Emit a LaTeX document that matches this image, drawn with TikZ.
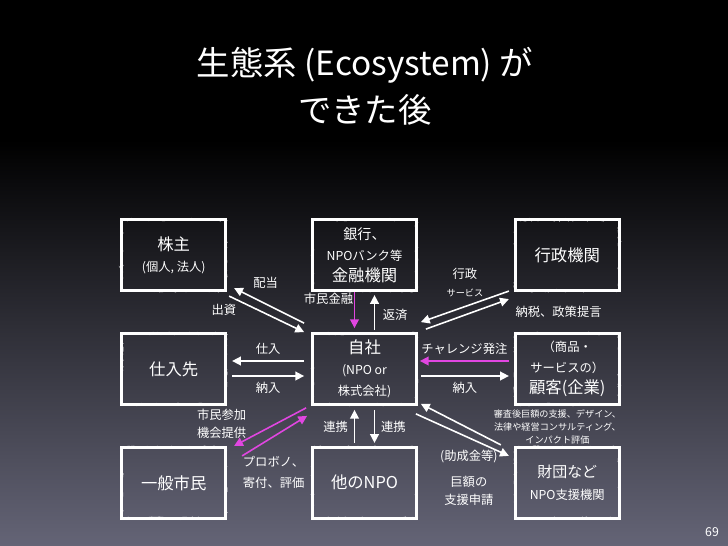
\documentclass[tikz,border=0pt]{standalone}
\usepackage{fontspec}
\setmainfont{Noto Sans CJK JP}
\usepackage{tikz}
\usetikzlibrary{positioning,arrows.meta,decorations.pathmorphing}
\definecolor{bgmid}{RGB}{48,48,74}
\definecolor{bgbot}{RGB}{100,100,118}
\definecolor{chalkpink}{RGB}{225,70,225}
\newcommand\bigbox{\fontsize{9.3}{12}\selectfont}
\newcommand\midbox{\fontsize{7}{10}\selectfont}
\newcommand\tinylbl{\fontsize{5.2}{7.4}\selectfont}
\tikzset{node distance=0.8cm,
  box/.style={draw=white, line width=1.6pt, minimum width=2.08cm, minimum height=1.42cm,
    align=center, text=white, font=\bigbox,
    postaction={decorate, draw=white, line width=0.5pt,
      decoration={random steps, segment length=1.2pt, amplitude=0.7pt}}},
  arr/.style={draw=white, line width=0.9pt, -{Triangle[length=5pt,width=5pt]}},
  marr/.style={arr, draw=chalkpink},
  lbl/.style={text=white, font=\midbox}}

\begin{document}
\begin{tikzpicture}[x=0.02cm, y=-0.02cm]
% background
\fill[black] (0,0) rectangle (728,141);
\shade[top color=black, middle color=bgmid, bottom color=bgbot] (0,140) rectangle (728,546);
\useasboundingbox (0,0) rectangle (728,546);

\node (title) [text=white, align=center, font=\fontsize{19}{27}\selectfont] at (365,86)
  {生態系 (Ecosystem) が\\できた後};

% boxes
\node (jisha) [box] at (364.5,369) {自社\\{\midbox (NPO or}\\{\midbox 株式会社)}};
\node (kinyu) [box, above=of jisha] {{\fontsize{8}{10}\selectfont 銀行、}\\{\midbox NPOバンク等}\\金融機関};
\node (npo) [box, below=of jisha] {他のNPO};
\node (shiire) [box, left=1.68cm of jisha] {仕入先};
\node (kokyaku) [box, right=1.92cm of jisha] {{\midbox （商品・}\\{\midbox サービスの）}\\顧客(企業)};
\node (kabu) [box, above=of shiire] {株主\\{\midbox (個人, 法人)}};
\node (gyosei) [box, above=of kokyaku] {行政機関};
\node (shimin) [box, below=of shiire] {一般市民};
\node (zaidan) [box, below=of kokyaku] {{\fontsize{8.5}{11}\selectfont 財団など}\\{\midbox NPO支援機関}};

% top row
\draw[arr] ([shift={(-7,-9)}]jisha.north west) -- node[lbl, pos=0.55, above=5pt] {配当} ([shift={(7,-4)}]kabu.south east);
\draw[arr] ([shift={(2,4)}]kabu.south east) -- node[lbl, pos=0, below=1pt, xshift=-3pt] {出資} ([shift={(-7,0)}]jisha.north west);
\draw[marr] ([shift={(-10,0)}]kinyu.south) -- node[lbl, pos=0.2, left=-3pt] {市民金融} ([shift={(-10,-4)}]jisha.north);
\draw[arr] ([shift={(10,-2)}]jisha.north) -- node[lbl, pos=0.43, right=1pt] {返済} ([shift={(10,3)}]kinyu.south);
\draw[arr] ([shift={(-5,-1)}]gyosei.south west) -- node[lbl, align=center, above=2pt] {行政\\{\tinylbl サービス}} ([shift={(3,-10)}]jisha.north east);
\draw[arr] ([shift={(8,-3)}]jisha.north east) -- node[lbl, pos=1, below right] {納税、政策提言} ([shift={(-5,7)}]gyosei.south west);

% middle row
\draw[arr] ([shift={(-7,-8)}]jisha.west) -- node[lbl, above] {仕入} ([shift={(5,-8)}]shiire.east);
\draw[arr] ([shift={(5,7)}]shiire.east) -- node[lbl, below] {納入} ([shift={(-7,7)}]jisha.west);
\draw[marr] ([shift={(-5,-8)}]kokyaku.west) -- node[lbl, above] {チャレンジ発注} ([shift={(2,-8)}]jisha.east);
\draw[arr] ([shift={(3,7)}]jisha.east) -- node[lbl, below] {納入} ([shift={(-5,7)}]kokyaku.west);

% bottom row
\draw[arr] ([shift={(-10,-3)}]npo.north) -- node[lbl, left] {連携} ([shift={(-10,4)}]jisha.south);
\draw[arr] ([shift={(10,4)}]jisha.south) -- node[lbl, right] {連携} ([shift={(10,-3)}]npo.north);
\draw[marr] ([shift={(-5,2)}]jisha.south west) -- node[lbl, align=center, pos=0.82, anchor=south east, inner sep=0pt] {市民参加\\機会提供} ([shift={(7,0)}]shimin.north east);
\draw[marr] ([shift={(15,10)}]shimin.north east) -- node[lbl, align=left, pos=0, anchor=north west, inner sep=0pt] {プロボノ、\\[2pt]寄付、評価} ([shift={(-4,10)}]jisha.south west);
\draw[arr] ([shift={(-13,-1)}]zaidan.north west) -- node[lbl, font=\tinylbl, align=center, pos=0, anchor=south west, inner sep=0pt, xshift=-4.5pt] {審査後巨額の支援、デザイン、\\法律や経営コンサルティング、\\インパクト評価} ([shift={(3,-2)}]jisha.south east);
\draw[arr] ([shift={(-2,8)}]jisha.south east) -- node[lbl, align=center, pos=0.57, below=3pt] {(助成金等)\\[5pt]巨額の\\支援申請} ([shift={(-5,10)}]zaidan.north west);

\node (pnum) [text=white, font=\midbox] at (712,532) {69};
\end{tikzpicture}
\end{document}
